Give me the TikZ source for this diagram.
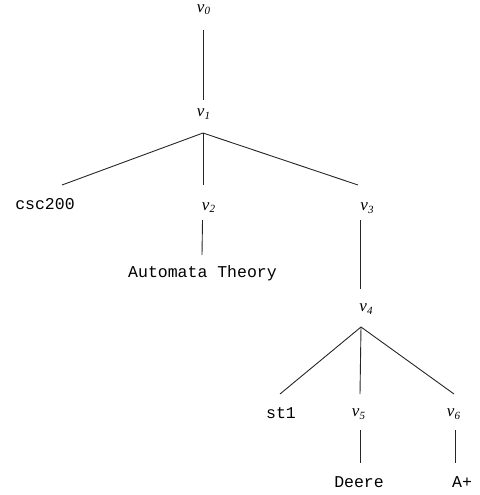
\documentclass[tikz,border=0pt]{standalone}
\usepackage{fontspec}
\newfontfamily\monofont{Liberation Mono}
\newfontfamily\vfont{Liberation Serif}
\newcommand\vlabel[1]{{\vfont\itshape\fontsize{17}{19}\selectfont v\raisebox{-2.5pt}{\fontsize{11}{12}\selectfont #1}}}
\usetikzlibrary{calc}
\tikzset{
  vlab/.style={inner sep=0pt, anchor=center},
  tlab/.style={inner sep=0pt, anchor=center, font=\monofont\fontsize{16.5}{18}\selectfont},
  treeedge/.style={draw=black!85, line width=0.9pt}
}
\begin{document}
\begin{tikzpicture}[x=1pt,y=-1pt]
\useasboundingbox (0,0) rectangle (479,495);
\node[vlab] (v0) at (203.5,9.5) {\vlabel{0}};
\node[vlab] (v1) at (203.5,114) {\vlabel{1}};
\node[tlab] (csc) at (45,204) {csc200};
\node[vlab] (v2) at (208.5,207.5) {\vlabel{2}};
\node[vlab] (v3) at (367,208) {\vlabel{3}};
\node[tlab] (at) at (202.5,273.5) {Automata Theory};
\node[vlab] (v4) at (366,309) {\vlabel{4}};
\node[tlab] (st1) at (281,413) {st1};
\node[vlab] (v5) at (358.5,414) {\vlabel{5}};
\node[vlab] (v6) at (453.5,414) {\vlabel{6}};
\node[tlab] (deere) at (359,482) {Deere};
\node[tlab] (ap) at (462,482) {A+};
\draw[treeedge] ($(v0)+(-0.5,20.5)$) -- ($(v1)+(-0.5,-14)$);
\draw[treeedge] ($(v1)+(-0.5,19)$) -- ($(csc)+(17,-19)$);
\draw[treeedge] ($(v1)+(-0.5,19)$) -- ($(v2)+(-5.5,-22.5)$);
\draw[treeedge] ($(v1)+(-0.5,19)$) -- ($(v3)+(-9,-23)$);
\draw[treeedge] ($(v2)+(-6,12.5)$) -- ($(at)+(-0.5,-18.5)$);
\draw[treeedge] ($(v3)+(-7,12)$) -- ($(v4)+(-6,-20)$);
\draw[treeedge] ($(v4)+(-5,18)$) -- ($(st1)+(-1,-19)$);
\draw[treeedge] ($(v4)+(-5,18)$) -- ($(v5)+(1.5,-20)$);
\draw[treeedge] ($(v4)+(-5,18)$) -- ($(v6)+(0.5,-20)$);
\draw[treeedge] ($(v5)+(1.5,16)$) -- ($(deere)+(1,-19)$);
\draw[treeedge] ($(v6)+(1.5,16)$) -- ($(ap)+(-7,-19)$);
\end{tikzpicture}
\end{document}
